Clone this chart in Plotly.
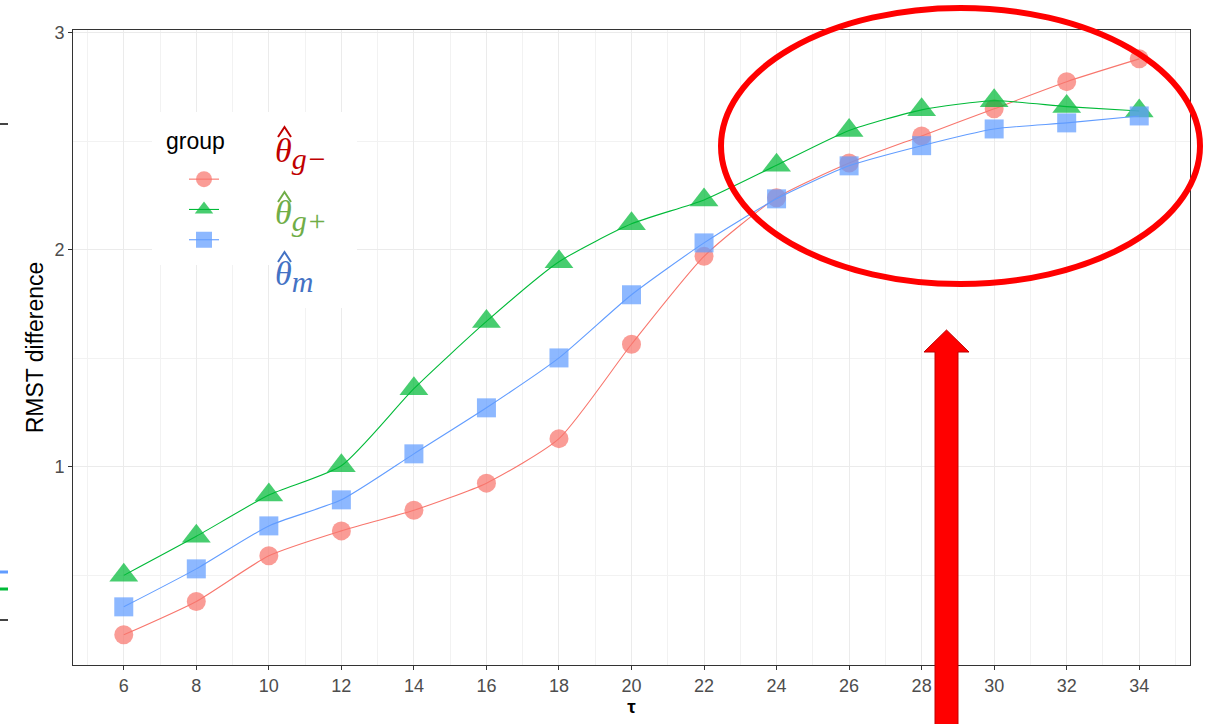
import plotly.graph_objects as go

# ---------------- data ----------------
tau = [6, 8, 10, 12, 14, 16, 18, 20, 22, 24, 26, 28, 30, 32, 34]
theta_g_minus = [0.226, 0.38, 0.59, 0.705, 0.80, 0.925, 1.13, 1.565, 1.97, 2.24, 2.40, 2.525, 2.65, 2.775, 2.88]
theta_g_plus = [0.50, 0.68, 0.87, 1.005, 1.36, 1.67, 1.945, 2.12, 2.23, 2.39, 2.55, 2.645, 2.687, 2.66, 2.64]
theta_m = [0.355, 0.53, 0.728, 0.848, 1.06, 1.272, 1.502, 1.793, 2.032, 2.235, 2.387, 2.48, 2.557, 2.585, 2.617]

series_names = ["θ̂g−", "θ̂g+", "θ̂m"]
series_values = [theta_g_minus, theta_g_plus, theta_m]
series_colors = ["#F8766D", "#00BA38", "#619CFF"]
series_symbols = ["circle", "triangle-up", "square"]
series_sizes = [19, 25, 19]

label_subs = ["g−", "g+", "m"]
label_colors = ["#C00000", "#70AD47", "#4472C4"]
legend_title = "group"

x_ticks = [6, 8, 10, 12, 14, 16, 18, 20, 22, 24, 26, 28, 30, 32, 34]
x_ticklabels = [str(v) for v in x_ticks]
y_ticks = [1, 2, 3]
y_ticklabels = ["1", "2", "3"]

# ---------------- layout geometry (pixels) ----------------
W, H = 1214, 724
L, R, T, B = 73, 1190, 30, 665


def px(xp):
    return (xp - L) / (R - L)


def py(yp):
    return (B - yp) / (B - T)


fig = go.Figure()
for name, vals, col, sym, sz in zip(series_names, series_values, series_colors, series_symbols, series_sizes):
    fig.add_trace(go.Scatter(
        x=tau, y=vals, name=name, mode="lines+markers",
        line=dict(color=col, width=1.1, shape="spline", smoothing=0.6),
        marker=dict(symbol=sym, size=sz, color=col, opacity=0.72, line=dict(width=0)),
    ))

axis_font = "Liberation Sans, Arial, sans-serif"
fig.update_layout(
    width=W, height=H,
    margin=dict(l=L, r=W - R, t=T, b=H - B, pad=0),
    paper_bgcolor="white", plot_bgcolor="white",
    showlegend=True,
    legend=dict(
        x=px(184), y=py(159), xanchor="left", yanchor="top",
        bgcolor="rgba(0,0,0,0)", borderwidth=0,
        font=dict(size=21, color="rgba(0,0,0,0)", family=axis_font),
        itemsizing="trace", tracegroupgap=0,
    ),
    xaxis=dict(
        range=[4.6, 35.4], tickvals=x_ticks, ticktext=x_ticklabels,
        ticks="outside", ticklen=4, tickcolor="#333333", tickwidth=1,
        tickfont=dict(family=axis_font, size=18, color="#4D4D4D"),
        showgrid=True, gridcolor="#EBEBEB", gridwidth=1.1,
        minor=dict(tick0=5, dtick=2, showgrid=True, gridcolor="#F2F2F2", gridwidth=1),
        showline=True, linecolor="#333333", linewidth=1, mirror=True, zeroline=False,
        title=dict(text="<b>τ</b>", font=dict(size=19, color="black", family=axis_font), standoff=2),
    ),
    yaxis=dict(
        range=[0.087, 3.013], tickvals=y_ticks, ticktext=y_ticklabels,
        ticks="outside", ticklen=4, tickcolor="#333333", tickwidth=1,
        tickfont=dict(family=axis_font, size=18, color="#4D4D4D"),
        showgrid=True, gridcolor="#EBEBEB", gridwidth=1.1,
        minor=dict(tick0=0.5, dtick=1, showgrid=True, gridcolor="#F2F2F2", gridwidth=1),
        showline=True, linecolor="#333333", linewidth=1, mirror=True, zeroline=False,
        title=dict(text="RMST difference", font=dict(size=23, color="black", family=axis_font), standoff=4),
    ),
)

shapes = []
# white legend background and white box behind the theta labels
shapes.append(dict(type="rect", xref="paper", yref="paper", x0=px(152), x1=px(357), y0=py(265), y1=py(112),
                   fillcolor="white", line=dict(width=0), layer="above"))
shapes.append(dict(type="rect", xref="paper", yref="paper", x0=px(283), x1=px(357), y0=py(308), y1=py(112),
                   fillcolor="white", line=dict(width=0), layer="above"))
# hats over the theta labels
hat_tops = [127, 192, 252]
for col, yt in zip(label_colors, hat_tops):
    hp = [(278, yt + 10), (284.5, yt), (291, yt + 10)]
    shapes.append(dict(type="path", xref="paper", yref="paper",
                       path="M " + " L ".join(f"{px(a):.5f},{py(b):.5f}" for a, b in hp),
                       line=dict(color=col, width=2), layer="above"))
# red ellipse highlight
shapes.append(dict(type="circle", xref="paper", yref="paper", x0=px(721), x1=px(1200), y0=py(284), y1=py(8),
                   line=dict(color="#FF0000", width=6), fillcolor="rgba(0,0,0,0)", layer="above"))
# red arrow
pts = [(946.5, 330), (969, 352), (958, 352), (958, 735), (935, 735), (935, 352), (924, 352)]
path = "M " + " L ".join(f"{px(a):.5f},{py(b):.5f}" for a, b in pts) + " Z"
shapes.append(dict(type="path", xref="paper", yref="paper", path=path,
                   fillcolor="#FF0000", line=dict(color="#C00000", width=1), layer="above"))
# stray marks at the left edge (cropped neighbour figure)
for yy, col, wd in [(124, "#444444", 2), (620, "#444444", 2), (572, "#619CFF", 3), (589, "#00BA38", 3)]:
    shapes.append(dict(type="line", xref="paper", yref="paper", x0=px(0), x1=px(8), y0=py(yy), y1=py(yy),
                       line=dict(color=col, width=wd), layer="above"))
fig.update_layout(shapes=shapes)

fig.add_annotation(xref="paper", yref="paper", x=px(164), y=py(141), xanchor="left", yanchor="middle",
                   text=legend_title, showarrow=False,
                   font=dict(family=axis_font, size=23, color="black"))

label_y = [153, 216, 276]
for sub, col, yy in zip(label_subs, label_colors, label_y):
    txt = f"<i>θ</i><sub><span style='font-size:30px'><i>{sub}</i></span></sub>"
    fig.add_annotation(xref="paper", yref="paper", x=px(273), y=py(yy), xanchor="left", yanchor="middle",
                       text=txt, showarrow=False,
                       font=dict(family="Liberation Serif, DejaVu Serif, serif", size=34, color=col))

fig.write_html("out.html")
